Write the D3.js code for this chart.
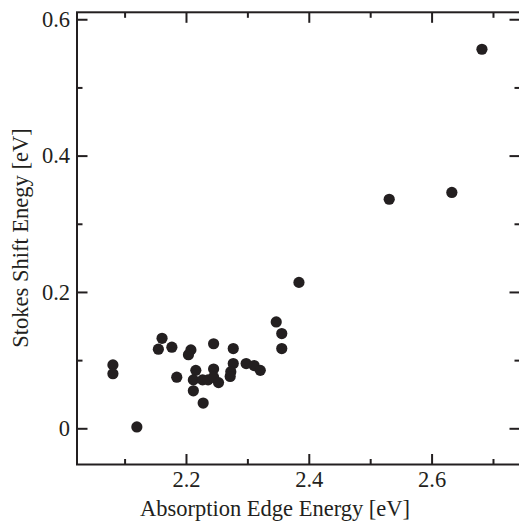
<!DOCTYPE html>
<html>
<head>
<meta charset="utf-8">
<script src="https://cdn.jsdelivr.net/npm/d3@7"></script>
<style>
  html, body { margin: 0; padding: 0; background: #fff; }
  svg { display: block; }
  text { font-family: "Liberation Serif", "Times New Roman", serif; fill: #231f20; }
</style>
</head>
<body>
<svg id="chart" width="519" height="523"></svg>
<script>
// Data
const absorptionEdge = [2.081, 2.081, 2.120, 2.161, 2.155, 2.177, 2.185, 2.208, 2.204, 2.245,
  2.216, 2.212, 2.212, 2.228, 2.227, 2.236, 2.245, 2.245, 2.253, 2.277,
  2.277, 2.273, 2.272, 2.298, 2.311, 2.321, 2.347, 2.356, 2.356, 2.384,
  2.531, 2.633, 2.682];
const stokesShift = [0.093, 0.080, 0.002, 0.132, 0.116, 0.119, 0.075, 0.115, 0.108, 0.124,
  0.085, 0.071, 0.055, 0.037, 0.071, 0.071, 0.087, 0.075, 0.067, 0.117,
  0.095, 0.083, 0.076, 0.095, 0.092, 0.085, 0.156, 0.139, 0.117, 0.214,
  0.336, 0.346, 0.556];
const xMajorTicks = [2.2, 2.4, 2.6];
const xMinorTicks = [2.1, 2.3, 2.5, 2.7];
const yMajorTicks = [0, 0.2, 0.4, 0.6];
const yMinorTicks = [0.1, 0.3, 0.5];
const xTitle = "Absorption Edge Energy [eV]";
const yTitle = "Stokes Shift Enegy [eV]";

const ink = "#231f20";
const plotLeft = 77, plotRight = 520, plotTop = 12.3, plotBottom = 464.5;

const x = d3.scaleLinear().domain([2.0225, 2.744]).range([plotLeft, plotRight]);
const y = d3.scaleLinear().domain([-0.0531, 0.6102]).range([plotBottom, plotTop]);

const svg = d3.select("#chart");
const fontSize = "22.5px";

function styleAxis(g) {
  g.select(".domain").remove();
  g.selectAll(".tick line").attr("stroke", ink).attr("stroke-width", 2);
  g.selectAll(".tick text").attr("font-family", "Liberation Serif, Times New Roman, serif")
    .attr("font-size", fontSize).attr("fill", ink);
}

// Left axis
svg.append("g").attr("transform", `translate(${plotLeft},0)`)
  .call(d3.axisLeft(y).tickValues(yMajorTicks).tickSize(-10.5).tickPadding(7)
    .tickFormat(d => d === 0 ? "0" : d3.format(".1f")(d)))
  .call(styleAxis);
svg.append("g").attr("transform", `translate(${plotLeft},0)`)
  .call(d3.axisLeft(y).tickValues(yMinorTicks).tickSize(-5.5).tickFormat(""))
  .call(styleAxis);
// Right axis
svg.append("g").attr("transform", `translate(${plotRight},0)`)
  .call(d3.axisRight(y).tickValues(yMajorTicks).tickSize(-10.5).tickFormat(""))
  .call(styleAxis);
svg.append("g").attr("transform", `translate(${plotRight},0)`)
  .call(d3.axisRight(y).tickValues(yMinorTicks).tickSize(-5.5).tickFormat(""))
  .call(styleAxis);
// Bottom axis
svg.append("g").attr("transform", `translate(0,${plotBottom})`)
  .call(d3.axisBottom(x).tickValues(xMajorTicks).tickSize(-10.5).tickPadding(6.5)
    .tickFormat(d3.format(".1f")))
  .call(styleAxis);
svg.append("g").attr("transform", `translate(0,${plotBottom})`)
  .call(d3.axisBottom(x).tickValues(xMinorTicks).tickSize(-5.5).tickFormat(""))
  .call(styleAxis);
// Top axis
svg.append("g").attr("transform", `translate(0,${plotTop})`)
  .call(d3.axisTop(x).tickValues(xMajorTicks).tickSize(-10.5).tickFormat(""))
  .call(styleAxis);
svg.append("g").attr("transform", `translate(0,${plotTop})`)
  .call(d3.axisTop(x).tickValues(xMinorTicks).tickSize(-5.5).tickFormat(""))
  .call(styleAxis);

// Frame
svg.append("rect")
  .attr("x", plotLeft).attr("y", plotTop)
  .attr("width", plotRight - plotLeft).attr("height", plotBottom - plotTop)
  .attr("fill", "none").attr("stroke", ink).attr("stroke-width", 2);

// Points
svg.append("g").selectAll("circle")
  .data(absorptionEdge.map((v, i) => [v, stokesShift[i]]))
  .join("circle")
  .attr("cx", d => x(d[0]))
  .attr("cy", d => y(d[1]))
  .attr("r", 5.6)
  .attr("fill", ink);

// Titles
svg.append("text")
  .attr("x", 275).attr("y", 515.5)
  .attr("text-anchor", "middle")
  .attr("font-size", fontSize)
  .text(xTitle);
svg.append("text")
  .attr("transform", `translate(28,238) rotate(-90)`)
  .attr("text-anchor", "middle")
  .attr("font-size", fontSize)
  .text(yTitle);
</script>
</body>
</html>
